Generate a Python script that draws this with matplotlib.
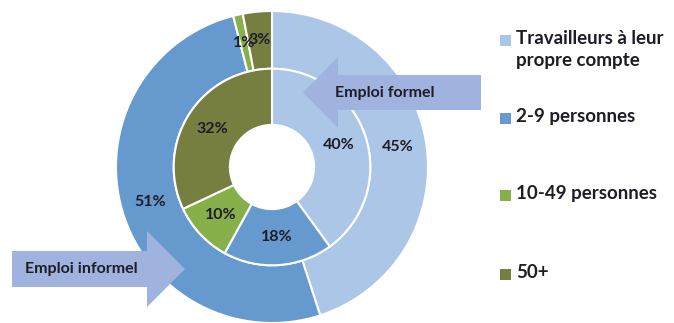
import matplotlib.pyplot as plt
from matplotlib.patches import FancyArrow, Rectangle

categories = ['Travailleurs à leur\npropre compte', '2-9 personnes', '10-49 personnes', '50+']
outer_values = [45, 51, 1, 3]
inner_values = [40, 18, 10, 32]
colors = ['#abc6e6', '#6699cd', '#88b04a', '#767f40']

plt.rcParams['font.family'] = ['Lato', 'DejaVu Sans']

TEXT = '#1d1d28'
ARROW = '#a0b2de'


def draw_donut(fig):
    # disque centré à (272, 167) px, rayon 156 px
    ax = fig.add_axes([(272 - 156) / 674, (323 - 167 - 156) / 323, 312 / 674, 312 / 323])
    tp = dict(fontsize=11.5, fontweight='bold', color=TEXT)
    w, _, _ = ax.pie(outer_values, radius=1.0, colors=colors, startangle=90, counterclock=False,
                     autopct='%d%%', pctdistance=0.815,
                     wedgeprops=dict(width=0.37, edgecolor='white', linewidth=1.5), textprops=tp)
    ax.pie(inner_values, radius=0.63, colors=colors, startangle=90, counterclock=False,
           autopct='%d%%', pctdistance=0.45 / 0.63,
           wedgeprops=dict(width=0.36, edgecolor='white', linewidth=1.5), textprops=tp)
    ax.set_xlim(-1.0, 1.0)
    ax.set_ylim(-1.0, 1.0)
    ax.set_aspect('equal')
    return w


def draw_overlay(fig, wedges):
    ov = fig.add_axes([0, 0, 1, 1], zorder=5)
    ov.set_xlim(0, 674)
    ov.set_ylim(323, 0)
    ov.axis('off')

    # flèche "Emploi formel" (vers la gauche)
    ov.add_patch(FancyArrow(481, 92.5, -178, 0, width=35, head_width=71, head_length=35,
                            length_includes_head=True, color=ARROW, lw=0))
    ov.text(385, 92.5, 'Emploi formel', ha='center', va='center', fontsize=11.5,
            fontweight='bold', color=TEXT)

    # flèche "Emploi informel" (vers la droite)
    ov.add_patch(FancyArrow(12, 269, 173, 0, width=36, head_width=76, head_length=38,
                            length_includes_head=True, color=ARROW, lw=0))
    ov.text(81, 269, 'Emploi informel', ha='center', va='center', fontsize=11.5,
            fontweight='bold', color=TEXT)

    # légende
    ys = [40, 118, 195, 274]
    for wdg, lab, y in zip(wedges, categories, ys):
        ov.add_patch(Rectangle((500, y - 5.5), 11, 11, color=wdg.get_facecolor(), lw=0))
        ov.text(516, y - 10, lab, ha='left', va='top', fontsize=13.5, fontweight='bold',
                color=TEXT, linespacing=1.35)


def main():
    fig = plt.figure(figsize=(6.74, 3.23), dpi=100)
    wedges = draw_donut(fig)
    draw_overlay(fig, wedges)
    fig.savefig('out.png', dpi=100)


if __name__ == '__main__':
    main()
